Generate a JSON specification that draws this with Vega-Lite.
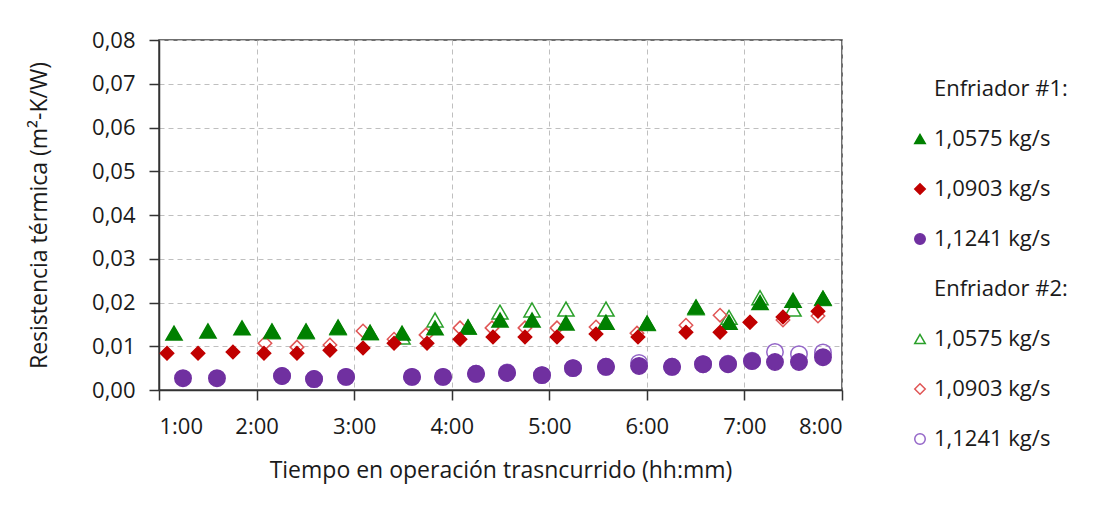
{
  "$schema": "https://vega.github.io/schema/vega-lite/v6.json",
  "autosize": {"type": "none"},
  "width": 683,
  "height": 350,
  "padding": {"left": 159, "top": 40, "right": 260, "bottom": 124},
  "background": "white",
  "config": {
    "font": "Open Sans",
    "view": {"stroke": "#404040", "strokeWidth": 1.5},
    "axis": {"labelFont": "Open Sans", "titleFont": "Open Sans", "labelFontSize": 22, "titleFontSize": 23, "labelColor": "#1a1a1a", "titleColor": "#1a1a1a", "titleFontWeight": "normal", "domainColor": "#333", "tickColor": "#333", "tickSize": 10, "domainWidth": 1.5, "tickWidth": 1.5, "gridColor": "#BFBFBF", "gridDash": [5, 4], "gridWidth": 1},
    "legend": {"labelFont": "Open Sans", "labelFontSize": 22, "labelColor": "#1a1a1a"}
  },
  "data": {
    "values": [
      {"enfriador": "2", "serie": "E2 1,0575 kg/s", "t": 2.158, "r": 0.0133},
      {"enfriador": "2", "serie": "E2 1,0575 kg/s", "t": 2.507, "r": 0.0133},
      {"enfriador": "2", "serie": "E2 1,0575 kg/s", "t": 2.835, "r": 0.0142},
      {"enfriador": "2", "serie": "E2 1,0575 kg/s", "t": 3.163, "r": 0.0131},
      {"enfriador": "2", "serie": "E2 1,0575 kg/s", "t": 3.491, "r": 0.0121},
      {"enfriador": "2", "serie": "E2 1,0575 kg/s", "t": 3.829, "r": 0.0160},
      {"enfriador": "2", "serie": "E2 1,0575 kg/s", "t": 4.167, "r": 0.0144},
      {"enfriador": "2", "serie": "E2 1,0575 kg/s", "t": 4.495, "r": 0.0178},
      {"enfriador": "2", "serie": "E2 1,0575 kg/s", "t": 4.823, "r": 0.0183},
      {"enfriador": "2", "serie": "E2 1,0575 kg/s", "t": 5.171, "r": 0.0185},
      {"enfriador": "2", "serie": "E2 1,0575 kg/s", "t": 5.581, "r": 0.0185},
      {"enfriador": "2", "serie": "E2 1,0575 kg/s", "t": 6.002, "r": 0.0152},
      {"enfriador": "2", "serie": "E2 1,0575 kg/s", "t": 6.504, "r": 0.0188},
      {"enfriador": "2", "serie": "E2 1,0575 kg/s", "t": 6.842, "r": 0.0166},
      {"enfriador": "2", "serie": "E2 1,0575 kg/s", "t": 7.160, "r": 0.0211},
      {"enfriador": "2", "serie": "E2 1,0575 kg/s", "t": 7.498, "r": 0.0185},
      {"enfriador": "2", "serie": "E2 1,0575 kg/s", "t": 7.805, "r": 0.0209},
      {"enfriador": "2", "serie": "E2 1,0903 kg/s", "t": 2.086, "r": 0.0107},
      {"enfriador": "2", "serie": "E2 1,0903 kg/s", "t": 2.414, "r": 0.0098},
      {"enfriador": "2", "serie": "E2 1,0903 kg/s", "t": 2.752, "r": 0.0103},
      {"enfriador": "2", "serie": "E2 1,0903 kg/s", "t": 3.091, "r": 0.0135},
      {"enfriador": "2", "serie": "E2 1,0903 kg/s", "t": 3.409, "r": 0.0116},
      {"enfriador": "2", "serie": "E2 1,0903 kg/s", "t": 3.737, "r": 0.0126},
      {"enfriador": "2", "serie": "E2 1,0903 kg/s", "t": 4.085, "r": 0.0142},
      {"enfriador": "2", "serie": "E2 1,0903 kg/s", "t": 4.413, "r": 0.0142},
      {"enfriador": "2", "serie": "E2 1,0903 kg/s", "t": 4.751, "r": 0.0142},
      {"enfriador": "2", "serie": "E2 1,0903 kg/s", "t": 5.079, "r": 0.0142},
      {"enfriador": "2", "serie": "E2 1,0903 kg/s", "t": 5.479, "r": 0.0144},
      {"enfriador": "2", "serie": "E2 1,0903 kg/s", "t": 5.899, "r": 0.0130},
      {"enfriador": "2", "serie": "E2 1,0903 kg/s", "t": 6.401, "r": 0.0148},
      {"enfriador": "2", "serie": "E2 1,0903 kg/s", "t": 6.750, "r": 0.0171},
      {"enfriador": "2", "serie": "E2 1,0903 kg/s", "t": 7.057, "r": 0.0155},
      {"enfriador": "2", "serie": "E2 1,0903 kg/s", "t": 7.395, "r": 0.0160},
      {"enfriador": "2", "serie": "E2 1,0903 kg/s", "t": 7.754, "r": 0.0169},
      {"enfriador": "2", "serie": "E2 1,1241 kg/s", "t": 2.261, "r": 0.0032},
      {"enfriador": "2", "serie": "E2 1,1241 kg/s", "t": 2.589, "r": 0.0025},
      {"enfriador": "2", "serie": "E2 1,1241 kg/s", "t": 2.917, "r": 0.0030},
      {"enfriador": "2", "serie": "E2 1,1241 kg/s", "t": 3.593, "r": 0.0030},
      {"enfriador": "2", "serie": "E2 1,1241 kg/s", "t": 3.911, "r": 0.0030},
      {"enfriador": "2", "serie": "E2 1,1241 kg/s", "t": 4.249, "r": 0.0037},
      {"enfriador": "2", "serie": "E2 1,1241 kg/s", "t": 4.567, "r": 0.0040},
      {"enfriador": "2", "serie": "E2 1,1241 kg/s", "t": 4.925, "r": 0.0034},
      {"enfriador": "2", "serie": "E2 1,1241 kg/s", "t": 5.243, "r": 0.0050},
      {"enfriador": "2", "serie": "E2 1,1241 kg/s", "t": 5.581, "r": 0.0053},
      {"enfriador": "2", "serie": "E2 1,1241 kg/s", "t": 5.920, "r": 0.0062},
      {"enfriador": "2", "serie": "E2 1,1241 kg/s", "t": 6.258, "r": 0.0053},
      {"enfriador": "2", "serie": "E2 1,1241 kg/s", "t": 6.576, "r": 0.0059},
      {"enfriador": "2", "serie": "E2 1,1241 kg/s", "t": 6.832, "r": 0.0060},
      {"enfriador": "2", "serie": "E2 1,1241 kg/s", "t": 7.078, "r": 0.0067},
      {"enfriador": "2", "serie": "E2 1,1241 kg/s", "t": 7.313, "r": 0.0087},
      {"enfriador": "2", "serie": "E2 1,1241 kg/s", "t": 7.559, "r": 0.0082},
      {"enfriador": "2", "serie": "E2 1,1241 kg/s", "t": 7.805, "r": 0.0086},
      {"enfriador": "1", "serie": "E1 1,0575 kg/s", "t": 1.154, "r": 0.0130},
      {"enfriador": "1", "serie": "E1 1,0575 kg/s", "t": 1.502, "r": 0.0135},
      {"enfriador": "1", "serie": "E1 1,0575 kg/s", "t": 1.851, "r": 0.0142},
      {"enfriador": "1", "serie": "E1 1,0575 kg/s", "t": 2.158, "r": 0.0135},
      {"enfriador": "1", "serie": "E1 1,0575 kg/s", "t": 2.507, "r": 0.0135},
      {"enfriador": "1", "serie": "E1 1,0575 kg/s", "t": 2.835, "r": 0.0144},
      {"enfriador": "1", "serie": "E1 1,0575 kg/s", "t": 3.163, "r": 0.0132},
      {"enfriador": "1", "serie": "E1 1,0575 kg/s", "t": 3.491, "r": 0.0130},
      {"enfriador": "1", "serie": "E1 1,0575 kg/s", "t": 3.829, "r": 0.0142},
      {"enfriador": "1", "serie": "E1 1,0575 kg/s", "t": 4.167, "r": 0.0144},
      {"enfriador": "1", "serie": "E1 1,0575 kg/s", "t": 4.495, "r": 0.0160},
      {"enfriador": "1", "serie": "E1 1,0575 kg/s", "t": 4.823, "r": 0.0160},
      {"enfriador": "1", "serie": "E1 1,0575 kg/s", "t": 5.171, "r": 0.0153},
      {"enfriador": "1", "serie": "E1 1,0575 kg/s", "t": 5.581, "r": 0.0155},
      {"enfriador": "1", "serie": "E1 1,0575 kg/s", "t": 6.002, "r": 0.0153},
      {"enfriador": "1", "serie": "E1 1,0575 kg/s", "t": 6.504, "r": 0.0190},
      {"enfriador": "1", "serie": "E1 1,0575 kg/s", "t": 6.842, "r": 0.0155},
      {"enfriador": "1", "serie": "E1 1,0575 kg/s", "t": 7.160, "r": 0.0200},
      {"enfriador": "1", "serie": "E1 1,0575 kg/s", "t": 7.498, "r": 0.0205},
      {"enfriador": "1", "serie": "E1 1,0575 kg/s", "t": 7.805, "r": 0.0210},
      {"enfriador": "1", "serie": "E1 1,0903 kg/s", "t": 1.082, "r": 0.0084},
      {"enfriador": "1", "serie": "E1 1,0903 kg/s", "t": 1.400, "r": 0.0084},
      {"enfriador": "1", "serie": "E1 1,0903 kg/s", "t": 1.758, "r": 0.0087},
      {"enfriador": "1", "serie": "E1 1,0903 kg/s", "t": 2.076, "r": 0.0084},
      {"enfriador": "1", "serie": "E1 1,0903 kg/s", "t": 2.414, "r": 0.0084},
      {"enfriador": "1", "serie": "E1 1,0903 kg/s", "t": 2.752, "r": 0.0091},
      {"enfriador": "1", "serie": "E1 1,0903 kg/s", "t": 3.091, "r": 0.0096},
      {"enfriador": "1", "serie": "E1 1,0903 kg/s", "t": 3.409, "r": 0.0107},
      {"enfriador": "1", "serie": "E1 1,0903 kg/s", "t": 3.747, "r": 0.0107},
      {"enfriador": "1", "serie": "E1 1,0903 kg/s", "t": 4.085, "r": 0.0116},
      {"enfriador": "1", "serie": "E1 1,0903 kg/s", "t": 4.423, "r": 0.0121},
      {"enfriador": "1", "serie": "E1 1,0903 kg/s", "t": 4.751, "r": 0.0121},
      {"enfriador": "1", "serie": "E1 1,0903 kg/s", "t": 5.079, "r": 0.0121},
      {"enfriador": "1", "serie": "E1 1,0903 kg/s", "t": 5.479, "r": 0.0128},
      {"enfriador": "1", "serie": "E1 1,0903 kg/s", "t": 5.909, "r": 0.0121},
      {"enfriador": "1", "serie": "E1 1,0903 kg/s", "t": 6.401, "r": 0.0132},
      {"enfriador": "1", "serie": "E1 1,0903 kg/s", "t": 6.750, "r": 0.0132},
      {"enfriador": "1", "serie": "E1 1,0903 kg/s", "t": 7.057, "r": 0.0155},
      {"enfriador": "1", "serie": "E1 1,0903 kg/s", "t": 7.395, "r": 0.0167},
      {"enfriador": "1", "serie": "E1 1,0903 kg/s", "t": 7.754, "r": 0.0180},
      {"enfriador": "1", "serie": "E1 1,1241 kg/s", "t": 1.246, "r": 0.0027},
      {"enfriador": "1", "serie": "E1 1,1241 kg/s", "t": 1.594, "r": 0.0027},
      {"enfriador": "1", "serie": "E1 1,1241 kg/s", "t": 2.261, "r": 0.0032},
      {"enfriador": "1", "serie": "E1 1,1241 kg/s", "t": 2.589, "r": 0.0025},
      {"enfriador": "1", "serie": "E1 1,1241 kg/s", "t": 2.917, "r": 0.0030},
      {"enfriador": "1", "serie": "E1 1,1241 kg/s", "t": 3.593, "r": 0.0030},
      {"enfriador": "1", "serie": "E1 1,1241 kg/s", "t": 3.911, "r": 0.0030},
      {"enfriador": "1", "serie": "E1 1,1241 kg/s", "t": 4.249, "r": 0.0037},
      {"enfriador": "1", "serie": "E1 1,1241 kg/s", "t": 4.567, "r": 0.0039},
      {"enfriador": "1", "serie": "E1 1,1241 kg/s", "t": 4.925, "r": 0.0034},
      {"enfriador": "1", "serie": "E1 1,1241 kg/s", "t": 5.243, "r": 0.0050},
      {"enfriador": "1", "serie": "E1 1,1241 kg/s", "t": 5.581, "r": 0.0053},
      {"enfriador": "1", "serie": "E1 1,1241 kg/s", "t": 5.920, "r": 0.0055},
      {"enfriador": "1", "serie": "E1 1,1241 kg/s", "t": 6.258, "r": 0.0053},
      {"enfriador": "1", "serie": "E1 1,1241 kg/s", "t": 6.576, "r": 0.0059},
      {"enfriador": "1", "serie": "E1 1,1241 kg/s", "t": 6.832, "r": 0.0059},
      {"enfriador": "1", "serie": "E1 1,1241 kg/s", "t": 7.078, "r": 0.0066},
      {"enfriador": "1", "serie": "E1 1,1241 kg/s", "t": 7.313, "r": 0.0064},
      {"enfriador": "1", "serie": "E1 1,1241 kg/s", "t": 7.559, "r": 0.0064},
      {"enfriador": "1", "serie": "E1 1,1241 kg/s", "t": 7.805, "r": 0.0075}
    ]
  },
  "mark": {"type": "point", "filled": false, "strokeWidth": 1.5, "opacity": 1},
  "encoding": {
    "x": {
      "field": "t", "type": "quantitative",
      "scale": {"domain": [1, 8], "nice": false, "zero": false},
      "axis": {"values": [1, 2, 3, 4, 5, 6, 7, 8], "labelExpr": "datum.value + ':00'", "title": "Tiempo en operación trasncurrido (hh:mm)", "labelPadding": 16, "titleY": 87, "titleBaseline": "alphabetic"}
    },
    "y": {
      "field": "r", "type": "quantitative",
      "scale": {"domain": [0, 0.08], "nice": false},
      "axis": {"values": [0, 0.01, 0.02, 0.03, 0.04, 0.05, 0.06, 0.07, 0.08], "labelExpr": "replace(format(datum.value, '.2f'), '.', ',')", "title": "Resistencia térmica (m²-K/W)", "labelPadding": 14, "titleX": -120, "titleAngle": -90, "titleBaseline": "middle"}
    },
    "shape": {
      "field": "serie", "type": "nominal",
      "scale": {
        "domain": ["Enfriador #1:", "E1 1,0575 kg/s", "E1 1,0903 kg/s", "E1 1,1241 kg/s", "Enfriador #2:", "E2 1,0575 kg/s", "E2 1,0903 kg/s", "E2 1,1241 kg/s"],
        "range": ["circle", "triangle-up", "diamond", "circle", "circle", "triangle-up", "diamond", "circle"]
      },
      "legend": {"title": null, "orient": "none", "legendX": 750, "legendY": 38, "rowPadding": 28, "symbolSize": 110, "symbolStrokeWidth": 1.5, "labelOffset": 3, "labelExpr": "indexof(datum.label, 'Enfriador') >= 0 ? datum.label : substring(datum.label, 3)"}
    },
    "fill": {
      "field": "serie", "type": "nominal",
      "scale": {
        "domain": ["Enfriador #1:", "E1 1,0575 kg/s", "E1 1,0903 kg/s", "E1 1,1241 kg/s", "Enfriador #2:", "E2 1,0575 kg/s", "E2 1,0903 kg/s", "E2 1,1241 kg/s"],
        "range": ["transparent", "#008000", "#C00000", "#7030A0", "transparent", "transparent", "transparent", "transparent"]
      }
    },
    "stroke": {
      "field": "serie", "type": "nominal",
      "scale": {
        "domain": ["Enfriador #1:", "E1 1,0575 kg/s", "E1 1,0903 kg/s", "E1 1,1241 kg/s", "Enfriador #2:", "E2 1,0575 kg/s", "E2 1,0903 kg/s", "E2 1,1241 kg/s"],
        "range": ["transparent", "#008000", "#C00000", "#7030A0", "transparent", "#2AA02A", "#E05555", "#9466C8"]
      }
    },
    "size": {
      "condition": [
        {"test": "indexof(datum.serie, '1,0903') >= 0", "value": 180},
        {"test": "indexof(datum.serie, '1,1241') >= 0", "value": 270}
      ],
      "value": 260
    }
  }
}
